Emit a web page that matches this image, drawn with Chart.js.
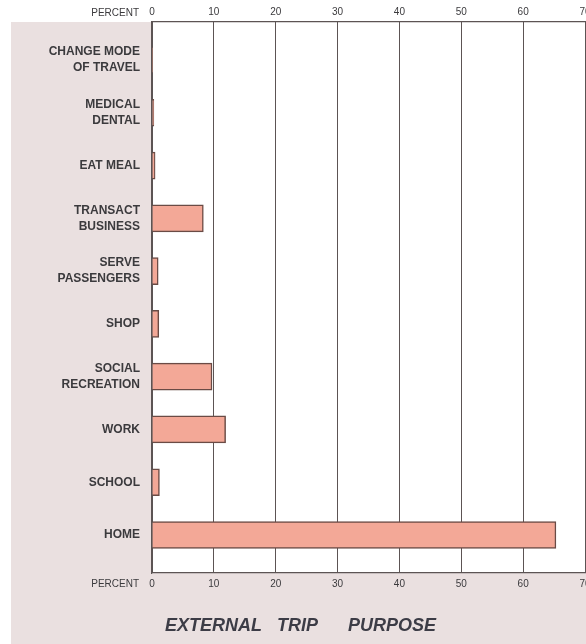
<!DOCTYPE html>
<html>
<head>
<meta charset="utf-8">
<script src="https://cdn.jsdelivr.net/npm/chart.js@4/dist/chart.umd.min.js"></script>
<style>
  html, body { margin: 0; padding: 0; background: #ffffff; }
  #wrap { width: 586px; height: 644px; position: relative; }
</style>
</head>
<body>
<div id="wrap"><canvas id="chart" width="586" height="644"></canvas></div>
<script>
// Trip purposes, top to bottom
const purposes = [
  ["CHANGE MODE", "OF TRAVEL"],
  ["MEDICAL", "DENTAL"],
  ["EAT MEAL"],
  ["TRANSACT", "BUSINESS"],
  ["SERVE", "PASSENGERS"],
  ["SHOP"],
  ["SOCIAL", "RECREATION"],
  ["WORK"],
  ["SCHOOL"],
  ["HOME"]
];

// Share of external trips, percent
const percentValues = [0.1, 0.3, 0.5, 8.3, 1.0, 1.1, 9.7, 11.9, 1.2, 65.3];

// Percent axis ticks
const percentTicks = [0, 10, 20, 30, 40, 50, 60, 70];

const chartTitleWords = ["EXTERNAL", "TRIP", "PURPOSE"];
const axisUnitLabel = "PERCENT";

const INK = "#3b3a3d";
const GRID = "#5c5454";
const PAPER = "#eae0e0";

const points = percentValues.map((v, i) => ({ x: v, y: i }));

// Paper background, white plot field, and the printed annotations
const decorations = {
  id: "decorations",
  beforeDraw(chart) {
    const { ctx, chartArea: a, width, height } = chart;
    ctx.save();
    ctx.fillStyle = "#ffffff";
    ctx.fillRect(0, 0, width, height);
    ctx.fillStyle = PAPER;
    ctx.fillRect(11, a.top, width - 11, height - a.top);
    ctx.fillStyle = "#ffffff";
    ctx.fillRect(a.left, a.top, a.right - a.left, a.bottom - a.top);
    ctx.restore();
  },
  afterDraw(chart) {
    const { ctx, chartArea: a } = chart;
    ctx.save();
    ctx.fillStyle = INK;
    ctx.font = "10px 'Liberation Sans', Arial, sans-serif";
    ctx.textAlign = "right";
    ctx.textBaseline = "middle";
    ctx.fillText(axisUnitLabel, a.left - 13, a.top - 9);
    ctx.fillText(axisUnitLabel, a.left - 13, a.bottom + 11);

    ctx.font = "italic bold 18px 'Liberation Sans', Arial, sans-serif";
    ctx.fillStyle = "#3c3c46";
    ctx.textAlign = "left";
    ctx.textBaseline = "alphabetic";
    const xs = [165, 277, 348];
    chartTitleWords.forEach((w, i) => ctx.fillText(w, xs[i], 631));
    ctx.restore();
  }
};

const tickFont = { family: "'Liberation Sans', Arial, sans-serif", size: 10 };

new Chart(document.getElementById("chart"), {
  type: "bar",
  data: {
    datasets: [{
      data: points,
      backgroundColor: "#f3a897",
      borderColor: "#6a4b45",
      borderWidth: 1.5,
      barThickness: 27,
      xAxisID: "x",
      yAxisID: "y"
    }]
  },
  options: {
    indexAxis: "y",
    responsive: false,
    animation: false,
    layout: { padding: { left: 0, right: 1, top: 0, bottom: 0 } },
    plugins: {
      legend: { display: false },
      tooltip: { enabled: false }
    },
    scales: {
      x: {
        type: "linear",
        position: "bottom",
        min: 0,
        max: 70,
        afterBuildTicks(s) { s.ticks = percentTicks.map(v => ({ value: v })); },
        afterFit(s) { s.height = 71; s.paddingLeft = 0; s.paddingRight = 0; },
        ticks: { color: INK, font: tickFont, padding: 5, maxRotation: 0 },
        grid: { color: GRID, lineWidth: 1, drawTicks: false },
        border: { color: GRID, width: 1.2 }
      },
      x2: {
        type: "linear",
        position: "top",
        min: 0,
        max: 70,
        afterBuildTicks(s) { s.ticks = percentTicks.map(v => ({ value: v })); },
        afterFit(s) { s.height = 22; s.paddingLeft = 0; s.paddingRight = 0; },
        ticks: { color: INK, font: tickFont, padding: 4, maxRotation: 0 },
        grid: { display: false, drawTicks: false },
        border: { color: GRID, width: 1.2 }
      },
      y: {
        type: "linear",
        reverse: true,
        offset: false,
        min: -0.72,
        max: 9.72,
        afterBuildTicks(s) { s.ticks = purposes.map((_, i) => ({ value: i })); },
        afterFit(s) { s.width = 152; },
        ticks: {
          color: INK,
          font: { family: "'Liberation Sans', Arial, sans-serif", size: 12, weight: "bold", lineHeight: 1.33 },
          padding: 12,
          callback: (v) => purposes[v]
        },
        grid: { display: false, drawTicks: false, offset: false },
        border: { color: GRID, width: 1.2 }
      }
    }
  },
  plugins: [decorations]
});
</script>
</body>
</html>
